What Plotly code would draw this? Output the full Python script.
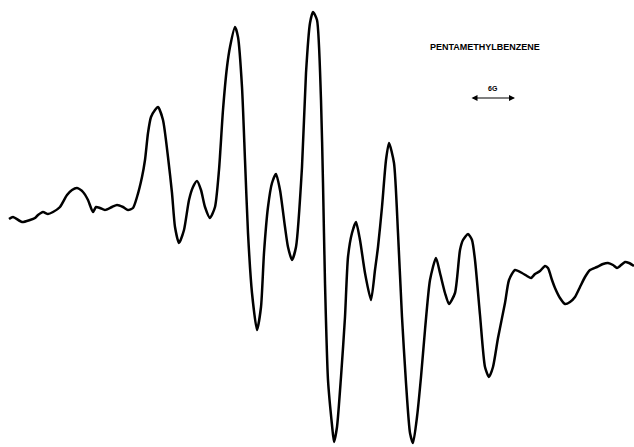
import plotly.graph_objects as go

# Trace of the EPR derivative spectrum (horizontal position, signal height in picture units)
field_pos = [9, 13, 22, 30, 35, 38, 43, 48, 53, 60, 67, 72, 77, 83, 88, 93, 96, 100, 105, 112,
             117, 123, 128, 133, 137, 142, 145, 148, 151, 155, 158, 163, 168, 172, 175, 179, 184, 189, 193, 197,
             201, 205, 210, 215, 219, 223, 227, 230, 235, 238, 242, 245, 248, 252, 257, 261, 264, 268, 272, 276,
             280, 285, 288, 292, 296, 302, 306, 310, 313, 317, 321, 323, 325, 328, 332, 334, 337, 341, 345, 348,
             352, 356, 360, 365, 371, 375, 378, 382, 386, 389, 394, 398, 402, 406, 410, 413, 417, 421, 425, 430,
             436, 440, 445, 449, 455, 460, 463, 468, 472, 475, 480, 485, 489, 493, 498, 505, 509, 515, 522, 527,
             531, 535, 540, 545, 548, 552, 555, 560, 565, 570, 575, 580, 585, 590, 597, 603, 608, 613, 617, 620,
             625, 629, 634]
signal = [219, 217, 222, 220, 218, 215, 212, 214, 212, 207, 195, 190, 188, 192, 200, 212, 207, 208, 210, 207,
          205, 207, 210, 208, 197, 177, 160, 133, 117, 110, 107, 120, 157, 193, 227, 243, 230, 200, 187, 181,
          190, 207, 218, 207, 170, 110, 67, 47, 27, 37, 87, 160, 233, 293, 330, 307, 253, 207, 183, 174,
          190, 227, 247, 260, 247, 167, 73, 23, 12, 20, 100, 183, 283, 380, 425, 442, 427, 377, 317, 257,
          233, 222, 240, 273, 300, 270, 247, 207, 160, 143, 163, 233, 317, 383, 433, 443, 417, 377, 330, 280,
          258, 273, 293, 304, 293, 250, 240, 234, 240, 260, 315, 367, 377, 367, 338, 303, 280, 270, 273, 276,
          278, 274, 271, 266, 268, 280, 288, 298, 304, 302, 297, 287, 277, 270, 267, 264, 263, 265, 268, 266,
          262, 263, 266]

title_text = "PENTAMETHYLBENZENE"
scale_text = "6G"
scale_left, scale_right, scale_y = 470, 515, 98

fig = go.Figure()
fig.add_trace(go.Scatter(x=field_pos, y=signal, mode="lines",
                         line=dict(color="black", width=2.5, shape="spline", smoothing=0.6),
                         hoverinfo="skip"))

fig.add_annotation(x=485, y=47, text="<b>" + title_text + "</b>", showarrow=False,
                   font=dict(family="Liberation Sans", size=9, color="black"))
fig.add_annotation(x=(scale_left + scale_right) / 2, y=88, text="<b>" + scale_text + "</b>", showarrow=False,
                   font=dict(family="Liberation Sans", size=7, color="black"))
fig.add_annotation(x=scale_right, y=scale_y, ax=scale_left, ay=scale_y, axref="x", ayref="y",
                   xref="x", yref="y", text="", showarrow=True, arrowside="end+start",
                   arrowhead=2, arrowsize=1.0, arrowwidth=1.2, arrowcolor="black",
                   standoff=0, startstandoff=0)

fig.update_xaxes(range=[0, 634], visible=False)
fig.update_yaxes(range=[447, 0], visible=False)
fig.update_layout(width=634, height=447, margin=dict(l=0, r=0, t=0, b=0),
                  plot_bgcolor="white", paper_bgcolor="white", showlegend=False,
                  hovermode=False)

fig.write_html("out.html", config={"displayModeBar": False, "staticPlot": True},
               post_script="document.body.style.margin='0';document.body.style.overflow='hidden';")
